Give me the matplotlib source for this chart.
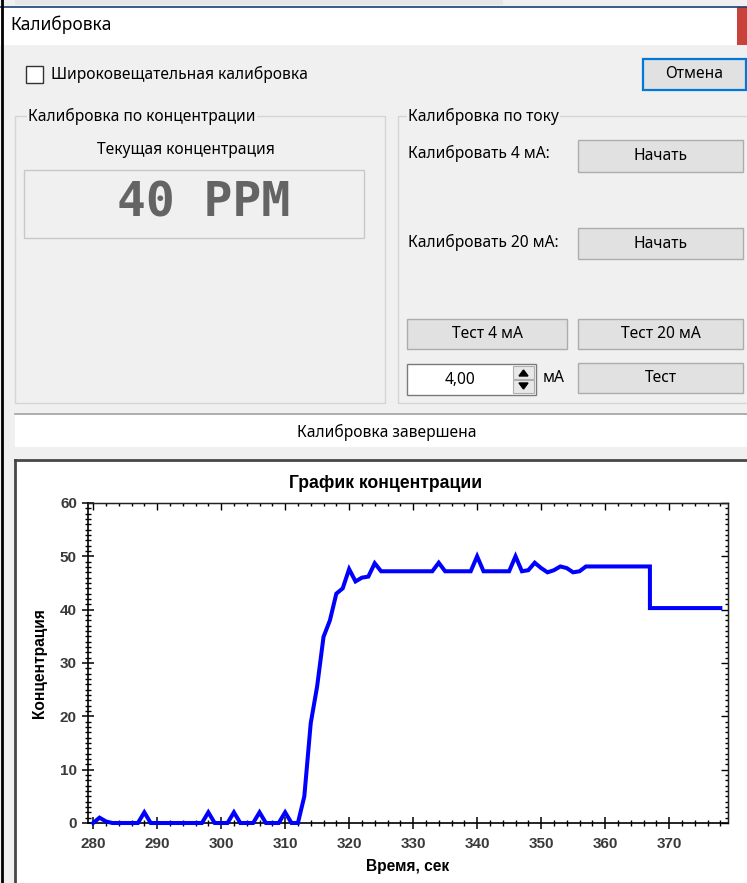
import matplotlib.pyplot as plt
from matplotlib.patches import Rectangle, Polygon
from matplotlib.ticker import MultipleLocator

# Данные графика концентрации (время в секундах, концентрация в PPM)
vremya = [280, 281, 282, 283, 284, 285, 286, 287, 288, 289,
          290, 291, 292, 293, 294, 295, 296, 297, 298, 299,
          300, 301, 302, 303, 304, 305, 306, 307, 308, 309,
          310, 311, 312, 313, 314, 315, 316, 317, 318, 319,
          320, 321, 322, 323, 324, 325, 326, 327, 328, 329,
          330, 331, 332, 333, 334, 335, 336, 337, 338, 339,
          340, 341, 342, 343, 344, 345, 346, 347, 348, 349,
          350, 351, 352, 353, 354, 355, 356, 357, 358, 359,
          360, 361, 362, 363, 364, 365, 366, 367, 367, 368,
          369, 370, 371, 372, 373, 374, 375, 376, 377, 378]
konc = [0, 1, 0.3, 0, 0, 0, 0, 0, 2, 0,
        0, 0, 0, 0, 0, 0, 0, 0, 2, 0,
        0, 0, 2, 0, 0, 0, 2, 0, 0, 0,
        2, 0, 0, 5, 18.7, 25.6, 34.9, 38, 43, 44,
        47.6, 45.3, 46, 46.2, 48.7, 47.2, 47.2, 47.2, 47.2, 47.2,
        47.2, 47.2, 47.2, 47.2, 48.8, 47.2, 47.2, 47.2, 47.2, 47.2,
        50, 47.2, 47.2, 47.2, 47.2, 47.2, 50, 47.2, 47.4, 48.8,
        47.8, 47.0, 47.4, 48.1, 47.8, 47.0, 47.2, 48.1, 48.1, 48.1,
        48.1, 48.1, 48.1, 48.1, 48.1, 48.1, 48.1, 48.1, 40.3, 40.3,
        40.3, 40.3, 40.3, 40.3, 40.3, 40.3, 40.3, 40.3, 40.3, 40.3]

# Подписи окна
zagolovok = "Калибровка"
chekboks_tekst = "Широковещательная калибровка"
tekushaya = "40 PPM"
status = "Калибровка завершена"

W, H = 747, 883
UI = ['Noto Sans', 'DejaVu Sans']
ui_size = 11.2
fon = '#f0f0f0'

fig = plt.figure(figsize=(W / 100, H / 100), dpi=100)
fig.patch.set_facecolor(fon)

# Фоновые оси в пикселях (y вниз)
bg = fig.add_axes([0, 0, 1, 1])
bg.set_xlim(0, W)
bg.set_ylim(H, 0)
bg.axis('off')


def pryam(x0, y0, x1, y1, face, edge='none', lw=1.0, z=1):
    bg.add_patch(Rectangle((x0, y0), x1 - x0, y1 - y0, facecolor=face,
                           edgecolor=edge, linewidth=lw, zorder=z))


def tekst(x, y, s, ha='left', size=ui_size, **kw):
    bg.text(x, y, s, ha=ha, va='center', fontsize=size, family=UI, color='black', zorder=5, **kw)


def knopka(x0, y0, x1, y1, s, edge='#adadad'):
    pryam(x0, y0, x1, y1, '#e1e1e1', edge, 1.0, 3)
    tekst((x0 + x1) / 2, (y0 + y1) / 2, s, ha='center')


# верхняя полоска и заголовок окна
pryam(15, 0, 503, 5, '#e6e6e6')
bg.plot([0, W], [6.5, 6.5], color='#1b3f73', lw=1.2, zorder=4)
pryam(0, 7, W, 45, 'white')
pryam(737, 7, W, 45, '#c9423c')
tekst(10, 25, zagolovok, size=12.5)
bg.plot([2, 2], [0, H], color='black', lw=2, zorder=6)

# чекбокс и кнопка Отмена
pryam(26, 66, 43, 83, 'white', '#333333', 1.0, 3)
tekst(51, 74, chekboks_tekst)
pryam(643, 59, 746, 90, '#e1e1e1', '#0078d7', 1.6, 3)
tekst(694, 74.5, "Отмена", ha='center')

# группа "Калибровка по концентрации"
pryam(15, 116, 385, 403, 'none', '#d5d5d5', 1.0, 2)
bg.text(28, 116, "Калибровка по концентрации", ha='left', va='center', fontsize=ui_size,
        family=UI, zorder=5, bbox=dict(facecolor=fon, edgecolor='none', pad=1))
tekst(186, 150, "Текущая концентрация", ha='center')
pryam(24, 170, 364, 238, fon, '#c8c8c8', 1.0, 3)
bg.text(204, 203, tekushaya, ha='center', va='center', fontsize=34.5, family='DejaVu Sans Mono',
        fontweight='bold', color='#646464', zorder=5)

# группа "Калибровка по току"
pryam(398, 116, 760, 403, 'none', '#d5d5d5', 1.0, 2)
bg.text(408, 116, "Калибровка по току", ha='left', va='center', fontsize=ui_size,
        family=UI, zorder=5, bbox=dict(facecolor=fon, edgecolor='none', pad=1))
tekst(408, 153, "Калибровать 4 мА:")
knopka(578, 140, 743, 172, "Начать")
tekst(408, 242, "Калибровать 20 мА:")
knopka(578, 228, 743, 259, "Начать")
knopka(407, 319, 567, 349, "Тест 4 мА")
knopka(578, 319, 743, 349, "Тест 20 мА")
knopka(578, 363, 743, 393, "Тест")

# поле ввода с кнопками вверх/вниз
pryam(407, 364, 536, 395, 'white', '#7a7a7a', 1.0, 3)
tekst(460, 379.5, "4,00", ha='center')
pryam(513, 366, 534, 379, '#e8e8e8', '#b0b0b0', 0.8, 4)
pryam(513, 380, 534, 393, '#e8e8e8', '#b0b0b0', 0.8, 4)
bg.add_patch(Polygon([[519, 376], [528, 376], [523.5, 370]], closed=True, color='black', zorder=5))
bg.add_patch(Polygon([[519, 383], [528, 383], [523.5, 389]], closed=True, color='black', zorder=5))
tekst(543, 378, "мА")

# строка статуса
pryam(15, 413, W, 447, 'white', 'none', 1.0, 2)
bg.plot([15, W], [413.5, 413.5], color='#a0a0a0', lw=1.2, zorder=3)
tekst(387, 432, status, ha='center')

# панель графика
pryam(15, 460, W, H, 'white', 'none', 1.0, 2)
bg.plot([15, W], [460, 460], color='#474747', lw=2, zorder=3)
bg.plot([15, 15], [460, H], color='#474747', lw=2, zorder=3)
bg.text(386, 483, "График концентрации", ha='center', va='center', fontsize=12.7,
        family='Liberation Sans', fontweight='bold', zorder=5)

# оси графика
ax = fig.add_axes([88 / W, 1 - 823 / H, 640 / W, 320 / H])
ax.set_facecolor('white')
ax.plot(vremya, konc, color='#0000ff', lw=2.9, solid_joinstyle='miter', clip_on=False, zorder=3)
ax.set_xlim(279.2, 379.2)
ax.set_ylim(0, 60)
ax.xaxis.set_major_locator(MultipleLocator(10))
ax.xaxis.set_minor_locator(MultipleLocator(2))
ax.yaxis.set_major_locator(MultipleLocator(10))
ax.yaxis.set_minor_locator(MultipleLocator(1))
ax.tick_params(which='major', direction='inout', length=8, width=1.1, color='black')
ax.tick_params(which='minor', direction='inout', length=4, width=1.0, color='black')
ax.tick_params(axis='x', which='major', pad=6)
ax.tick_params(axis='y', which='major', pad=4)
for lab in ax.get_xticklabels() + ax.get_yticklabels():
    lab.set_family('Liberation Sans')
    lab.set_fontsize(11)
    lab.set_fontweight('bold')
    lab.set_color('#3a3a3a')
for s in ['left', 'bottom']:
    ax.spines[s].set_linewidth(1.2)
for s in ['top', 'right']:
    ax.spines[s].set_linewidth(0.9)
    ax.spines[s].set_color('#222222')

# засечки сверху и справа внутрь
verh = ax.secondary_xaxis('top')
verh.xaxis.set_major_locator(MultipleLocator(10))
verh.xaxis.set_minor_locator(MultipleLocator(2))
verh.tick_params(which='major', direction='in', length=5, width=1.0, labeltop=False)
verh.tick_params(which='minor', direction='in', length=2.5, width=1.0)
verh.spines['top'].set_linewidth(0.9)
prav = ax.secondary_yaxis('right')
prav.yaxis.set_major_locator(MultipleLocator(10))
prav.yaxis.set_minor_locator(MultipleLocator(1))
prav.tick_params(which='major', direction='in', length=5, width=1.0, labelright=False)
prav.tick_params(which='minor', direction='in', length=2.5, width=1.0)
prav.spines['right'].set_linewidth(0.9)

ax.set_xlabel("Время, сек", family='Liberation Sans', fontsize=11.2, fontweight='bold', labelpad=6)
ax.set_ylabel("Концентрация", family='Liberation Sans', fontsize=11.2, fontweight='bold', labelpad=9)

fig.savefig('out.png', dpi=100, facecolor=fig.get_facecolor())
